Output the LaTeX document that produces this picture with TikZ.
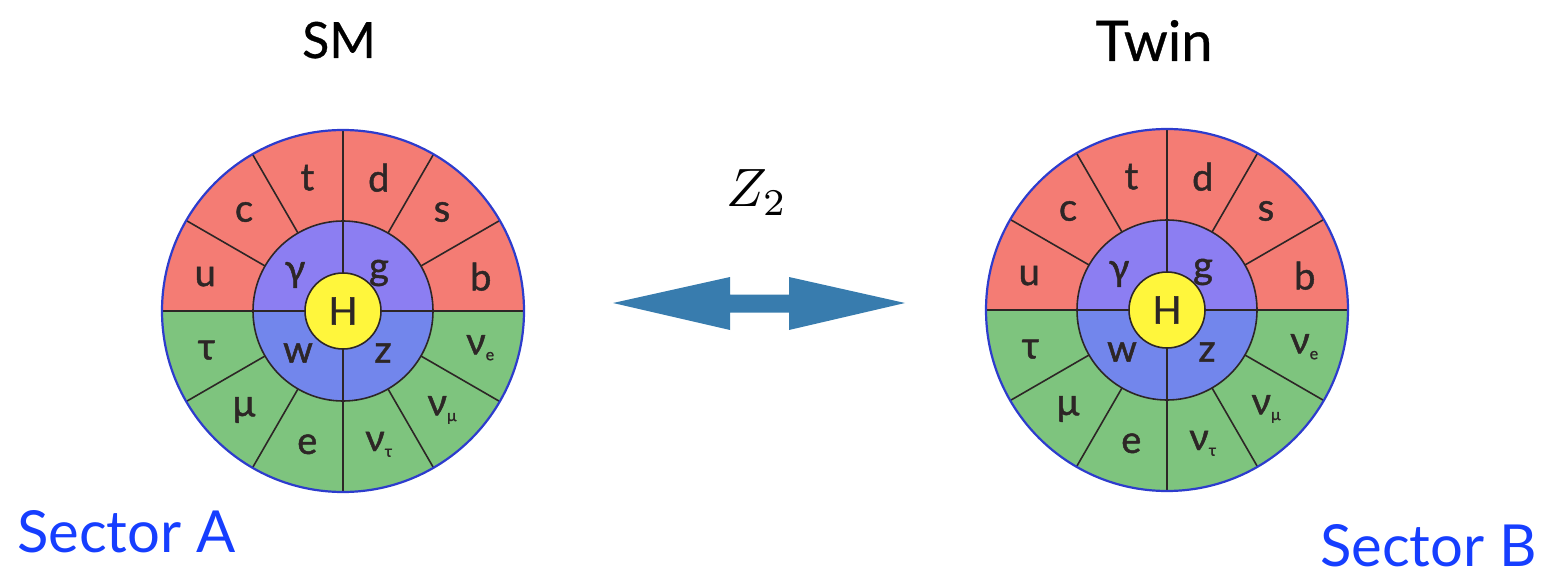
\documentclass[tikz,border=0pt]{standalone}
\usepackage{fontspec}
\setmainfont{Lato}
\newfontfamily\heavylato[FakeBold=1.2]{Lato}
\newfontfamily\midlato[FakeBold=0.6]{Lato}
\usetikzlibrary{calc}
\definecolor{quarkred}{RGB}{244,124,116}
\definecolor{leptongreen}{RGB}{126,196,126}
\definecolor{bosontop}{RGB}{140,126,242}
\definecolor{bosonbot}{RGB}{114,134,236}
\definecolor{higgsyel}{RGB}{255,246,60}
\definecolor{rimblue}{RGB}{45,60,205}
\definecolor{lineink}{RGB}{45,38,38}
\definecolor{arrowblue}{RGB}{56,124,174}
\definecolor{sectorblue}{RGB}{22,62,255}
\tikzset{
  plabel/.style={font=\heavylato\fontsize{38}{40}\selectfont, text=lineink, inner sep=0pt},
  hlabel/.style={font=\heavylato\fontsize{38}{40}\selectfont, text=lineink, inner sep=0pt},
  title/.style={font=\midlato\fontsize{50}{54}\selectfont, text=black, inner sep=0pt, anchor=base},
  sectorlbl/.style={font=\fontsize{58}{62}\selectfont, text=sectorblue, inner sep=0pt, text depth=0pt},
  divider/.style={draw=lineink, line width=1.6pt},
}
\newcommand{\particlewheel}[3]{%
\begin{scope}[shift={(#1,#2)}, yscale=-1]
  \fill[quarkred] (0,0) -- (181,0) arc[start angle=0, end angle=180, radius=181] -- cycle;
  \fill[leptongreen] (0,0) -- (-181,0) arc[start angle=180, end angle=360, radius=181] -- cycle;
  \foreach \a in {30,60,120,150,210,240,300,330}
    \draw[divider] (\a:90) -- (\a:181);
  \draw[divider] (-181,0) -- (181,0);
  \draw[divider] (0,-181) -- (0,181);
  \fill[bosontop] (0,0) -- (90,0) arc[start angle=0, end angle=180, radius=90] -- cycle;
  \fill[bosonbot] (0,0) -- (-90,0) arc[start angle=180, end angle=360, radius=90] -- cycle;
  \draw[divider] (-90,0) -- (90,0);
  \draw[divider] (0,-90) -- (0,90);
  \draw[divider] (0,0) circle[radius=90];
  \filldraw[fill=higgsyel, divider] (0,0) circle[radius=38];
  \draw[rimblue, line width=2.2pt] (0,0) circle[radius=181];
  \node[hlabel] (#3H) at (0,0) {H};
  \node[plabel] (#3u) at (166:142) {u};
  \node[plabel] (#3c) at (135:140) {c};
  \node[plabel] (#3t) at (105:138) {t};
  \node[plabel] (#3d) at (75:138) {d};
  \node[plabel] (#3s) at (45:140) {s};
  \node[plabel] (#3b) at (14:142) {b};
  \node[plabel] (#3tau) at (196:142) {τ};
  \node[plabel] (#3mu) at (225:140) {μ};
  \node[plabel] (#3e) at (255:138) {e};
  \node[plabel] (#3nt) at (285:138) {ν\raisebox{-0.3ex}{\fontsize{16}{16}\selectfont τ}};
  \node[plabel] (#3nm) at (315:140) {ν\raisebox{-0.3ex}{\fontsize{16}{16}\selectfont μ}};
  \node[plabel] (#3ne) at (345:142) {ν\raisebox{-0.3ex}{\fontsize{16}{16}\selectfont e}};
  \node[plabel] (#3gam) at (-48,36) {γ};
  \node[plabel] (#3g) at (36,38) {g};
  \node[plabel] (#3w) at (-45,-42) {w};
  \node[plabel] (#3z) at (40,-42) {z};
\end{scope}}
\begin{document}
\begin{tikzpicture}[x=1pt, y=-1pt]
\useasboundingbox (0,0) rectangle (1542,580);
\particlewheel{343}{311}{L}
\particlewheel{1167}{310}{R}
\node[title] (sm) at (339,58) {SM};
\node[title, font=\midlato\fontsize{56}{60}\selectfont] (twin) at (1154,61) {Twin};
\node[inner sep=0pt, anchor=base west] (z2) at (726,207) {\scalebox{5.4}{$Z_2$}};
\coordinate (al) at (613,303);
\coordinate (ar) at (905,303);
\fill[arrowblue] (al) -- (730,277) -- (730,294.5) -- (789,294.5) -- (789,277) -- (ar)
  -- (789,330) -- (789,312.5) -- (730,312.5) -- (730,330) -- cycle;
\node[sectorlbl, anchor=base west] (secA) at (17,552) {Sector A};
\node[sectorlbl, anchor=base east] (secB) at (1537,566) {Sector B};
\end{tikzpicture}
\end{document}
